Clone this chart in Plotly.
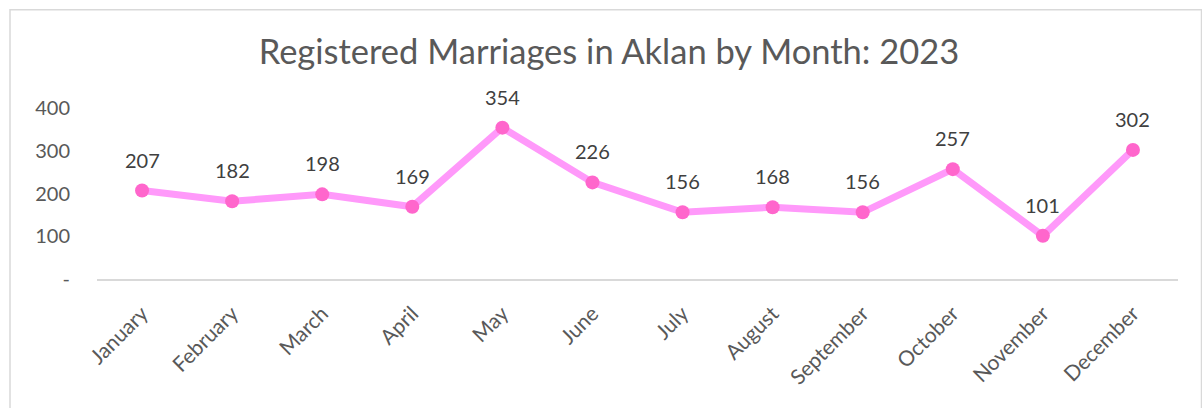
import plotly.graph_objects as go

months = ["January", "February", "March", "April", "May", "June", "July",
          "August", "September", "October", "November", "December"]
marriages = [207, 182, 198, 169, 354, 226, 156, 168, 156, 257, 101, 302]
y_tick_vals = [0, 100, 200, 300, 400]
y_tick_text = ["-", "100", "200", "300", "400"]
title_text = "Registered Marriages in Aklan by Month: 2023"

W, H = 1202, 408
L, R = 97, 24
T, B = 107.6, 128.6
pw = W - L - R
ph = H - T - B

FONT = "Lato"

fig = go.Figure()
fig.add_trace(go.Scatter(
    x=months, y=marriages, mode="lines+markers",
    line=dict(color="#FF99FA", width=7),
    marker=dict(color="#FF66CC", size=14),
    cliponaxis=False, hoverinfo="x+y", showlegend=False,
))

for m, v in zip(months, marriages):
    fig.add_annotation(x=m, y=v, text=str(v), showarrow=False, yshift=31,
                       font=dict(family=FONT, size=20, color="#404040"))

def px_x(p):
    return (p - L) / pw

def px_y(p):
    return (H - B - p) / ph

fig.add_shape(type="rect", xref="paper", yref="paper",
              x0=px_x(10), x1=px_x(1201.5), y0=px_y(420), y1=px_y(9),
              line=dict(color="#D9D9D9", width=1.5), layer="below")

fig.update_layout(
    width=W, height=H,
    margin=dict(l=L, r=R, t=T, b=B, autoexpand=False),
    paper_bgcolor="white", plot_bgcolor="white",
    title=dict(text=title_text, x=609 / W, xanchor="center", y=1 - 52 / H,
               yanchor="middle",
               font=dict(family=FONT, size=34.5, color="#595959")),
    xaxis=dict(type="category", range=[-0.5, 11.5], showgrid=False,
               showline=True, linecolor="#D9D9D9", linewidth=2,
               ticks="", tickangle=-45, ticklabelstandoff=12,
               tickfont=dict(family=FONT, size=21, color="#595959")),
    yaxis=dict(range=[0, 400], showgrid=False, zeroline=False, showline=False,
               tickvals=y_tick_vals, ticktext=y_tick_text, ticks="",
               ticklabelstandoff=26,
               tickfont=dict(family=FONT, size=20, color="#595959")),
)

fig.write_html("out.html")
